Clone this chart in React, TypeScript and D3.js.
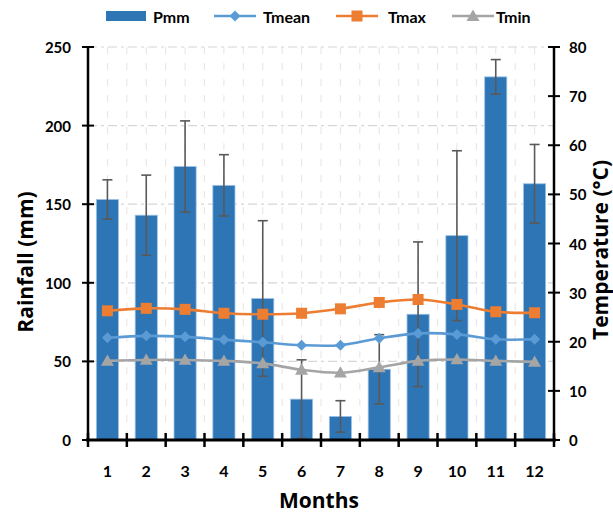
import React from 'react'
import * as d3 from 'd3'

const months = ['1', '2', '3', '4', '5', '6', '7', '8', '9', '10', '11', '12']
const pmm = [153, 143, 174, 162, 90, 26, 15, 45, 80, 130, 231, 163]
const pmmErr = [12.5, 25.5, 29, 19.5, 49.5, 25, 10, 22, 46, 54, 11, 25]
const tmean = [20.8, 21.2, 21.0, 20.4, 19.9, 19.3, 19.3, 20.7, 21.7, 21.5, 20.5, 20.5]
const tmax = [26.3, 26.8, 26.6, 25.8, 25.6, 25.8, 26.7, 28.0, 28.6, 27.6, 26.1, 25.9]
const tmin = [16.1, 16.3, 16.3, 16.1, 15.6, 14.3, 13.7, 14.8, 16.1, 16.4, 16.1, 15.9]
const rainTicks = [0, 50, 100, 150, 200, 250]
const tempTicks = [0, 10, 20, 30, 40, 50, 60, 70, 80]

const W = 613
const H = 514
const [top, right, bottom, left] = [47, 59, 74, 88]
const font = 'Lato, "Open Sans", sans-serif'
const titleFont = '"Open Sans", Lato, sans-serif'

const BLUE = '#2e75b6'
const LBLUE = '#5b9bd5'
const ORANGE = '#ed7d31'
const GRAY = '#a5a5a5'

function Marker({ type, x, y, color }: { type: string; x: number; y: number; color: string }) {
    if (type === 'diamond') {
        const s = 5.5
        return <path d={`M${x},${y - s}L${x + s},${y}L${x},${y + s}L${x - s},${y}Z`} fill={color} />
    }
    if (type === 'square') {
        const s = 5.5
        return <rect x={x - s} y={y - s} width={s * 2} height={s * 2} fill={color} />
    }
    const s = 6.5
    return <path d={`M${x},${y - s}L${x + s},${y + s * 0.75}L${x - s},${y + s * 0.75}Z`} fill={color} />
}

export default function App() {
    const x = d3
        .scaleBand<string>()
        .domain(months)
        .range([left, W - right])
        .paddingInner(0.43)
        .paddingOuter(0.215)
    const yR = d3.scaleLinear().domain([0, 250]).range([H - bottom, top])
    const yT = d3.scaleLinear().domain([0, 80]).range([H - bottom, top])
    const bw = x.bandwidth()
    const step = x.step()
    const cx = (m: string) => (x(m) as number) + bw / 2

    const line = d3
        .line<number>()
        .x((_, i) => cx(months[i]))
        .y(d => yT(d))
        .curve(d3.curveCatmullRom.alpha(0.5))

    const series = [
        { name: 'Tmean', data: tmean, color: LBLUE, marker: 'diamond' },
        { name: 'Tmax', data: tmax, color: ORANGE, marker: 'square' },
        { name: 'Tmin', data: tmin, color: GRAY, marker: 'triangle' },
    ]

    const vgrid = d3.range(1, months.length * 2).map(k => left + (k * step) / 2)
    const boundaries = d3.range(0, months.length + 1).map(k => left + k * step)
    const y0 = H - bottom

    const legend = [
        { name: 'Pmm', x: 106, tx: 153 },
        { name: 'Tmean', x: 214, tx: 263 },
        { name: 'Tmax', x: 336, tx: 388 },
        { name: 'Tmin', x: 452, tx: 496 },
    ]

    return (
        <svg
            width={W}
            height={H}
            style={{ position: 'absolute', left: 0, top: 0, background: 'white' }}
            fontFamily={font}
        >
            {/* grid */}
            <g>
                {vgrid.map(gx => (
                    <line key={gx} x1={gx} x2={gx} y1={top} y2={y0} stroke='#e4e4e4' strokeWidth={1} strokeDasharray='7 9' />
                ))}
                {rainTicks.slice(1).map(t => (
                    <line key={t} x1={left} x2={W - right} y1={yR(t)} y2={yR(t)} stroke='#d6d6d6' strokeWidth={1.2} strokeDasharray='9 4 3 4' />
                ))}
            </g>

            {/* bars */}
            <g>
                {pmm.map((v, i) => (
                    <rect
                        key={i}
                        x={x(months[i])}
                        y={yR(v)}
                        width={bw}
                        height={y0 - yR(v)}
                        fill={BLUE}
                        stroke='#9dc3e6'
                        strokeWidth={0.8}
                    />
                ))}
            </g>

            {/* error bars */}
            <g stroke='#595959' strokeWidth={1.6}>
                {pmm.map((v, i) => {
                    const c = cx(months[i])
                    const hi = yR(v + pmmErr[i])
                    const lo = yR(Math.max(0, v - pmmErr[i]))
                    return (
                        <g key={i}>
                            <line x1={c} x2={c} y1={hi} y2={lo} />
                            <line x1={c - 5} x2={c + 5} y1={hi} y2={hi} />
                            <line x1={c - 5} x2={c + 5} y1={lo} y2={lo} />
                        </g>
                    )
                })}
            </g>

            {/* temperature lines */}
            {series.map(s => (
                <g key={s.name}>
                    <path d={line(s.data) || ''} fill='none' stroke={s.color} strokeWidth={2.6} />
                    {s.data.map((v, i) => (
                        <Marker key={i} type={s.marker} x={cx(months[i])} y={yT(v)} color={s.color} />
                    ))}
                </g>
            ))}

            {/* axes */}
            <g stroke='black'>
                <line x1={left} x2={left} y1={top} y2={y0} strokeWidth={2.5} />
                <line x1={W - right} x2={W - right} y1={top} y2={y0} strokeWidth={2.5} />
                <line x1={left - 2} x2={W - right + 2} y1={y0} y2={y0} strokeWidth={3} />
                {rainTicks.map(t => (
                    <line key={t} x1={left - 6} x2={left + 6} y1={yR(t)} y2={yR(t)} strokeWidth={2} />
                ))}
                {tempTicks.map(t => (
                    <line key={t} x1={W - right - 6} x2={W - right + 6} y1={yT(t)} y2={yT(t)} strokeWidth={2} />
                ))}
                {boundaries.map(b => (
                    <line key={b} x1={b} x2={b} y1={y0 - 7} y2={y0 + 7} strokeWidth={2.5} />
                ))}
            </g>

            {/* tick labels */}
            <g fontSize={15} fontWeight='bold' fill='black'>
                {rainTicks.map(t => (
                    <text key={t} x={71} y={yR(t)} textAnchor='end' dominantBaseline='central'>
                        {t}
                    </text>
                ))}
                {tempTicks.map(t => (
                    <text key={t} x={569} y={yT(t)} textAnchor='start' dominantBaseline='central'>
                        {t}
                    </text>
                ))}
                {months.map(m => (
                    <text key={m} x={cx(m)} y={470} textAnchor='middle' dominantBaseline='central' fontSize={16}>
                        {m}
                    </text>
                ))}
            </g>

            {/* axis titles */}
            <g fontSize={21} fontWeight='bold' fill='black' textAnchor='middle' fontFamily={titleFont}>
                <text transform='translate(25,262) rotate(-90)' dominantBaseline='central'>
                    Rainfall (mm)
                </text>
                <text transform='translate(600,250) rotate(-90)' dominantBaseline='central'>
                    Temperature (°C)
                </text>
                <text x={319} y={500} dominantBaseline='central'>
                    Months
                </text>
            </g>

            {/* legend */}
            <g fontSize={16} fontWeight='bold'>
                {legend.map((l, i) => {
                    const s = series[i - 1]
                    return (
                        <g key={l.name}>
                            {i === 0 ? (
                                <rect x={l.x} y={11} width={40} height={10} fill={BLUE} />
                            ) : (
                                <>
                                    <line x1={l.x} x2={l.x + 42} y1={16} y2={16} stroke={s.color} strokeWidth={2.6} />
                                    <Marker type={s.marker} x={l.x + 21} y={16} color={s.color} />
                                </>
                            )}
                            <text x={l.tx} y={16} dominantBaseline='central'>
                                {l.name}
                            </text>
                        </g>
                    )
                })}
            </g>
        </svg>
    )
}
